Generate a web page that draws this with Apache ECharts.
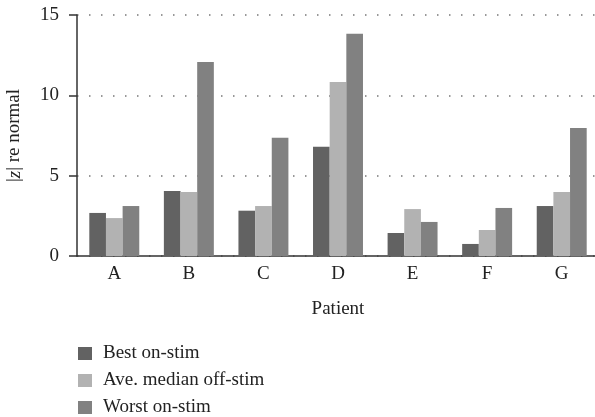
<!DOCTYPE html>
<html>
<head>
<meta charset="utf-8">
<script src="https://cdn.jsdelivr.net/npm/echarts@6/dist/echarts.min.js"></script>
<style>
html,body{margin:0;padding:0;background:#fff;}
#chart{width:595px;height:417px;}
</style>
</head>
<body>
<div id="chart"></div>
<script>
const categories = ['A','B','C','D','E','F','G'];
const bestOnStim = [2.68, 4.04, 2.82, 6.80, 1.43, 0.75, 3.11];
const aveMedianOffStim = [2.36, 3.98, 3.11, 10.83, 2.92, 1.62, 3.98];
const worstOnStim = [3.11, 12.07, 7.36, 13.83, 2.12, 2.99, 7.97];
const seriesNames = ['Best on-stim', 'Ave. median off-stim', 'Worst on-stim'];
const yTicks = [0, 5, 10, 15];

const FONT = '"Liberation Serif", "Times New Roman", serif';
const colors = ['#626262', '#b2b2b2', '#818181'];

const chart = echarts.init(document.getElementById('chart'), null, {renderer: 'canvas'});
chart.setOption({
  animation: false,
  backgroundColor: '#ffffff',
  color: colors,
  textStyle: {fontFamily: FONT},
  grid: {left: 77, top: 15, width: 522, height: 241, containLabel: false, outerBoundsMode: 'none'},
  legend: {
    orient: 'vertical',
    left: 78,
    top: 344,
    height: 200,
    padding: 0,
    itemWidth: 14,
    itemHeight: 13,
    itemGap: 8,
    icon: 'rect',
    data: seriesNames,
    textStyle: {fontFamily: FONT, fontSize: 19, color: '#222', padding: [0, 0, 0, 6]}
  },
  xAxis: {
    type: 'category',
    data: categories,
    name: 'Patient',
    nameLocation: 'middle',
    nameGap: 44,
    nameTextStyle: {fontFamily: FONT, fontSize: 19, color: '#222'},
    axisLine: {show: true, lineStyle: {color: '#333', width: 1.5}},
    axisTick: {show: false},
    axisLabel: {fontFamily: FONT, fontSize: 19, color: '#222', margin: 9}
  },
  yAxis: {
    type: 'value',
    min: yTicks[0],
    max: yTicks[yTicks.length - 1],
    interval: 5,
    name: '{n||}{i|z}{n|| re normal}',
    nameLocation: 'middle',
    nameGap: 53,
    nameRotate: 90,
    nameTextStyle: {
      fontFamily: FONT, fontSize: 19, color: '#222',
      rich: {
        n: {fontFamily: FONT, fontSize: 19, color: '#222'},
        i: {fontFamily: FONT, fontSize: 19, color: '#222', fontStyle: 'italic'}
      }
    },
    axisLine: {show: true, lineStyle: {color: '#333', width: 1.5}},
    axisTick: {show: true, length: 8, inside: false, lineStyle: {color: '#333', width: 1.5}},
    axisLabel: {fontFamily: FONT, fontSize: 19, color: '#222', margin: 18},
    splitLine: {show: true, lineStyle: {color: '#777', width: 1.5, type: [1.5, 10.5]}}
  },
  series: [
    {name: seriesNames[0], type: 'bar', data: bestOnStim, barGap: '0%', barCategoryGap: '33%'},
    {name: seriesNames[1], type: 'bar', data: aveMedianOffStim, barGap: '0%', barCategoryGap: '33%'},
    {name: seriesNames[2], type: 'bar', data: worstOnStim, barGap: '0%', barCategoryGap: '33%'}
  ]
});
</script>
</body>
</html>
